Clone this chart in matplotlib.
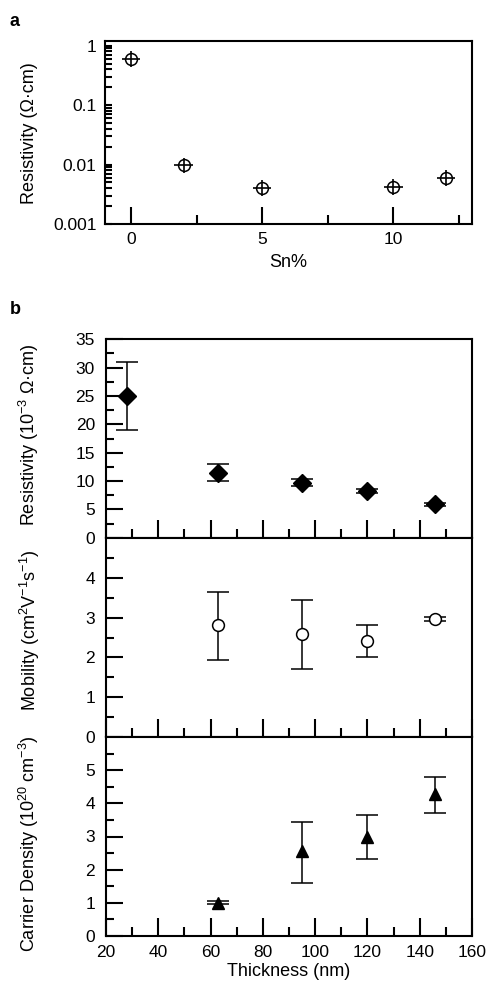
import matplotlib
matplotlib.use("Agg")
import matplotlib.pyplot as plt
from matplotlib.ticker import MultipleLocator, LogLocator, NullFormatter, FixedLocator

plt.rcParams["font.family"] = ["Liberation Sans", "DejaVu Sans"]
plt.rcParams["mathtext.fontset"] = "custom"
plt.rcParams["mathtext.rm"] = "Liberation Sans"

# ---- panel a: resistivity vs Sn doping
sn_pct = [0, 2, 5, 10, 12]
rho_sn = [0.60, 0.0097, 0.0040, 0.0042, 0.0060]

# ---- panel b: thickness series
thick_rho = [28, 63, 95, 120, 146]
rho_b = [25.0, 11.5, 9.7, 8.2, 5.9]
rho_b_err = [6.0, 1.5, 0.6, 0.4, 0.3]

thick_mu = [63, 95, 120, 146]
mobility = [2.81, 2.58, 2.41, 2.97]
mob_lo = [0.87, 0.88, 0.40, 0.05]
mob_hi = [0.84, 0.87, 0.41, 0.05]

thick_n = [63, 95, 120, 146]
carrier = [1.0, 2.56, 2.99, 4.30]
car_lo = [0.05, 0.96, 0.68, 0.58]
car_hi = [0.05, 0.87, 0.65, 0.50]

W, H = 491, 986
fig = plt.figure(figsize=(W / 100, H / 100), dpi=100)

LW = 1.5
FS = 12.5
LFS = 13


def style(ax):
    for s in ["top", "right", "left", "bottom"]:
        ax.spines[s].set_linewidth(LW)
    ax.tick_params(which="both", direction="in", width=LW, top=False, right=False,
                   labelsize=FS, pad=6)


def ylab(text, xpx, ypx):
    fig.text(xpx / W, 1 - ypx / H, text, rotation=90, ha="center", va="center",
             fontsize=LFS)


# ----------------------------------------------------------- panel a
axa = fig.add_axes([105 / W, 1 - 224 / H, 367 / W, 183 / H])
axa.errorbar(sn_pct, rho_sn, xerr=0.35,
             yerr=[[r * 0.27 for r in rho_sn], [r * 0.35 for r in rho_sn]],
             fmt="o", ms=8.5, mfc="none", mec="black", mew=1.1, ecolor="black",
             elinewidth=1.2, capsize=0, zorder=3)
axa.set_yscale("log")
axa.set_ylim(0.001, 1.2)
axa.set_xlim(-1, 13)
axa.xaxis.set_major_locator(FixedLocator([0, 5, 10]))
axa.xaxis.set_minor_locator(FixedLocator([2.5, 7.5, 12.5]))
axa.yaxis.set_major_locator(FixedLocator([0.001, 0.01, 0.1, 1]))
axa.set_yticklabels(["0.001", "0.01", "0.1", "1"])
axa.yaxis.set_minor_locator(LogLocator(base=10, subs=range(2, 10)))
axa.yaxis.set_minor_formatter(NullFormatter())
style(axa)
axa.tick_params(axis="x", which="major", length=12.5)
axa.tick_params(axis="x", which="minor", length=6.5)
axa.tick_params(axis="y", which="major", length=5)
axa.tick_params(axis="y", which="minor", length=5)
axa.set_xlabel("Sn%", fontsize=FS + 0.5, labelpad=5)
ylab("Resistivity (\u03a9\u00b7cm)", 29, 133)
fig.text(10 / W, 1 - 21 / H, "a", fontsize=13, fontweight="bold", va="center")

# ----------------------------------------------------------- panel b
tops = [339.3, 537.7, 737.3, 935.7]
axes = []
for i in range(3):
    ax = fig.add_axes([106 / W, 1 - tops[i + 1] / H, 366 / W, (tops[i + 1] - tops[i]) / H])
    axes.append(ax)
ax1, ax2, ax3 = axes

ax1.errorbar(thick_rho, rho_b, yerr=rho_b_err, fmt="D", ms=9, color="black",
             ecolor="black", elinewidth=1.1, capsize=8, capthick=1.1, zorder=3)
ax1.set_ylim(0, 35)
ax1.yaxis.set_major_locator(MultipleLocator(5))
ax1.yaxis.set_minor_locator(MultipleLocator(2.5))
ylab("Resistivity (10$^{-3}$ \u03a9\u00b7cm)", 29, 435)

ax2.errorbar(thick_mu, mobility, yerr=[mob_lo, mob_hi], fmt="o", ms=8.5, mfc="white",
             mec="black", mew=1.1, ecolor="black", elinewidth=1.1, capsize=8,
             capthick=1.1, zorder=3)
ax2.set_ylim(0, 5)
ax2.yaxis.set_major_locator(FixedLocator([0, 1, 2, 3, 4]))
ax2.yaxis.set_minor_locator(FixedLocator([0.5, 1.5, 2.5, 3.5, 4.5]))
ylab("Mobility (cm$^{2}$V$^{-1}$s$^{-1}$)", 30, 630)

ax3.errorbar(thick_n, carrier, yerr=[car_lo, car_hi], fmt="^", ms=9, color="black",
             ecolor="black", elinewidth=1.1, capsize=8, capthick=1.1, zorder=3)
ax3.set_ylim(0, 6)
ax3.yaxis.set_major_locator(FixedLocator([0, 1, 2, 3, 4, 5]))
ax3.yaxis.set_minor_locator(FixedLocator([0.5, 1.5, 2.5, 3.5, 4.5, 5.5]))
ylab("Carrier Density (10$^{20}$ cm$^{-3}$)", 29, 844)
ax3.set_xlabel("Thickness (nm)", fontsize=FS + 0.5, labelpad=2)

for ax in axes:
    ax.set_xlim(20, 160)
    ax.xaxis.set_major_locator(MultipleLocator(20))
    ax.xaxis.set_minor_locator(MultipleLocator(10))
    style(ax)
    ax.tick_params(axis="x", which="major", length=13)
    ax.tick_params(axis="x", which="minor", length=6.5)
    ax.tick_params(axis="y", which="major", length=12)
    ax.tick_params(axis="y", which="minor", length=6)
    ax.tick_params(axis="y", pad=8)
    ax.tick_params(axis="x", pad=7)
for ax in (ax1, ax2):
    ax.tick_params(axis="x", labelbottom=False)

fig.text(10 / W, 1 - 309 / H, "b", fontsize=13, fontweight="bold", va="center")

fig.savefig("out.png", dpi=100)
